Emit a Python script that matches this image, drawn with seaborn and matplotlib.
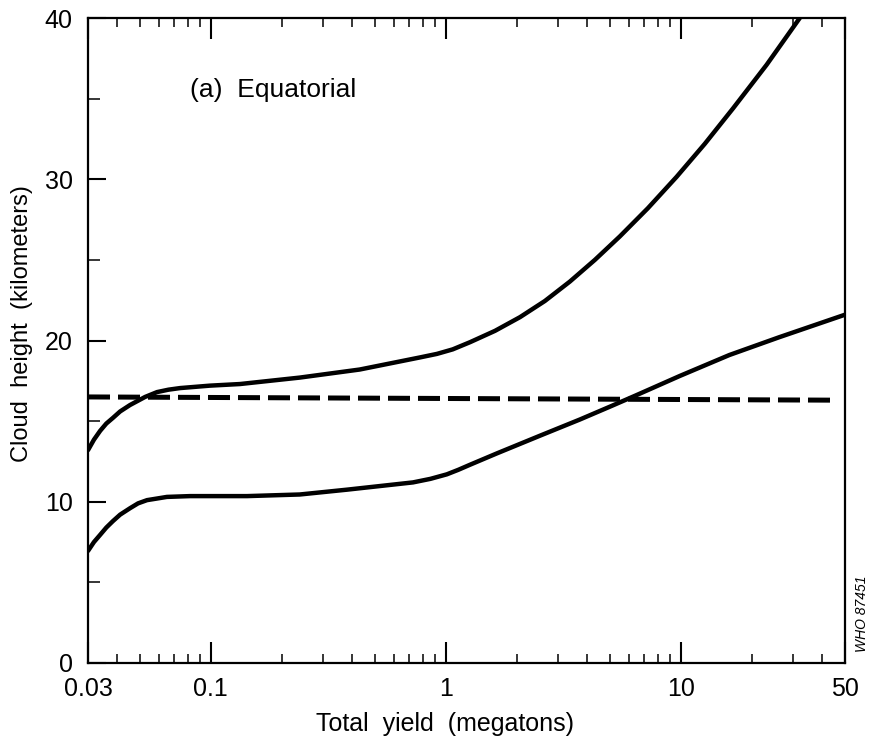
import numpy as np
import pandas as pd
import matplotlib
matplotlib.use("Agg")
import matplotlib.pyplot as plt
import matplotlib.ticker as mticker
import seaborn as sns

# Cloud-height curves (yield in megatons, height in km)
upper_yield = [0.030, 0.0318, 0.0338, 0.0359, 0.0383, 0.0411, 0.0453, 0.0525, 0.059,
               0.066, 0.074, 0.099, 0.133, 0.239, 0.43, 0.776, 0.917, 1.07, 1.27,
               1.62, 2.07, 2.64, 3.37, 4.31, 5.5, 7.24, 9.6, 12.66, 16.7, 23.2, 32.1]
upper_height = [13.2, 13.85, 14.4, 14.85, 15.2, 15.6, 16.0, 16.5, 16.8,
                16.95, 17.05, 17.2, 17.3, 17.7, 18.2, 18.95, 19.17, 19.45, 19.9,
                20.6, 21.45, 22.45, 23.65, 25.0, 26.45, 28.2, 30.15, 32.2, 34.4, 37.1, 40.0]

lower_yield = [0.030, 0.0318, 0.0338, 0.0359, 0.0383, 0.0411, 0.0453, 0.049, 0.0535,
               0.059, 0.065, 0.0815, 0.1425, 0.239, 0.38, 0.725, 0.86, 1.01, 1.13,
               1.27, 1.65, 2.52, 3.72, 5.0, 6.45, 9.9, 16.1, 26.2, 50.0]
lower_height = [6.95, 7.5, 7.95, 8.4, 8.8, 9.2, 9.6, 9.9, 10.1,
                10.2, 10.3, 10.35, 10.35, 10.45, 10.75, 11.2, 11.42, 11.7, 11.98,
                12.3, 13.0, 14.1, 15.1, 15.9, 16.6, 17.8, 19.1, 20.2, 21.6]

# Tropopause height (dashed)
tropo_yield = [0.030, 44.4]
tropo_height = [16.5, 16.3]

x_tick_values = [0.03, 0.1, 1, 10, 50]
x_tick_labels = ["0.03", "0.1", "1", "10", "50"]
y_tick_values = [0, 10, 20, 30, 40]
y_tick_labels = ["0", "10", "20", "30", "40"]

sns.set_theme(style="ticks")
plt.rcParams["font.family"] = ["Liberation Sans", "DejaVu Sans"]

W, H = 873, 742
fig = plt.figure(figsize=(W / 100, H / 100), dpi=100)
ax = fig.add_axes([88 / W, 1 - 663 / H, 757 / W, 645 / H])

upper = pd.DataFrame({"yield": upper_yield, "height": upper_height})
lower = pd.DataFrame({"yield": lower_yield, "height": lower_height})
tropo = pd.DataFrame({"yield": tropo_yield, "height": tropo_height})

line_kw = dict(color="black", linewidth=3.2, solid_capstyle="round",
               solid_joinstyle="round", estimator=None, sort=False, ax=ax)
sns.lineplot(data=upper, x="yield", y="height", **line_kw)
sns.lineplot(data=lower, x="yield", y="height", **line_kw)
sns.lineplot(data=tropo, x="yield", y="height", color="black", linewidth=3.6,
             linestyle=(0, (4.4, 1.6)), estimator=None, sort=False, ax=ax)

ax.set_xscale("log")
ax.set_xlim(0.03, 50)
ax.set_ylim(0, 40)

ax.xaxis.set_major_locator(mticker.FixedLocator(x_tick_values))
ax.xaxis.set_major_formatter(mticker.FixedFormatter(x_tick_labels))
ax.xaxis.set_minor_locator(mticker.LogLocator(base=10, subs=np.arange(2, 10), numticks=30))
ax.xaxis.set_minor_formatter(mticker.NullFormatter())
ax.yaxis.set_major_locator(mticker.FixedLocator(y_tick_values))
ax.yaxis.set_major_formatter(mticker.FixedFormatter(y_tick_labels))
ax.yaxis.set_minor_locator(mticker.MultipleLocator(5))

ax.tick_params(axis="x", which="major", direction="in", length=15, width=1.5,
               top=True, bottom=True, labelsize=18, pad=10, colors="black")
ax.tick_params(axis="x", which="minor", direction="in", length=6.5, width=1.3,
               top=True, bottom=True)
ax.tick_params(axis="y", which="major", direction="in", length=13, width=1.5,
               left=True, right=False, labelsize=18, pad=11, colors="black")
ax.tick_params(axis="y", which="minor", direction="in", length=8.5, width=1.3,
               left=True, right=False)

for sp in ax.spines.values():
    sp.set_visible(True)
    sp.set_linewidth(1.6)
    sp.set_color("black")

ax.set_xlabel("Total  yield  (megatons)", fontsize=18, color="black")
ax.xaxis.set_label_coords(0.472, -0.076)
ax.set_ylabel("Cloud  height  (kilometers)", fontsize=17, color="black")
ax.yaxis.set_label_coords(-0.073, 0.527)

fig.text(190 / W, 1 - 97 / H, "(a)  Equatorial", ha="left", va="baseline",
         fontsize=19, color="black")
fig.text(862 / W, 1 - 614 / H, "WHO 87451", rotation=90, ha="center", va="center",
         fontsize=10, style="italic", color="black")

fig.savefig("out.png", dpi=100, facecolor="white")
